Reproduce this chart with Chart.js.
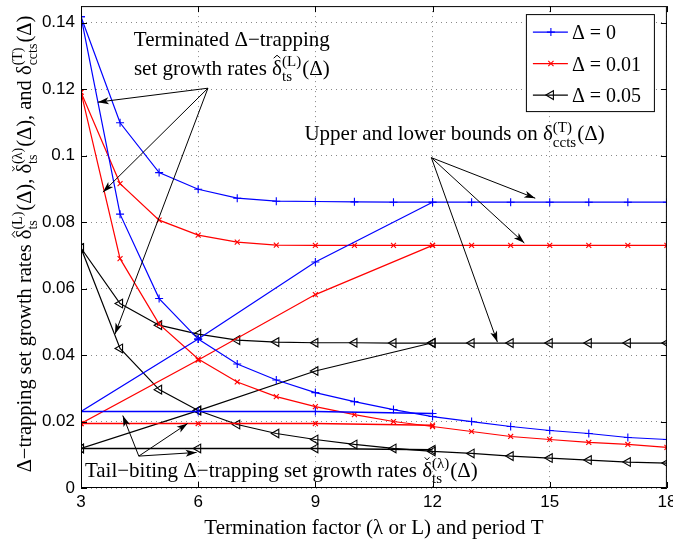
<!DOCTYPE html>
<html>
<head>
<meta charset="utf-8">
<script src="https://cdn.jsdelivr.net/npm/chart.js@4/dist/chart.umd.min.js"></script>
<style>
  html, body { margin: 0; padding: 0; background: #fff; }
  #wrap { width: 673px; height: 543px; }
</style>
</head>
<body>
<div id="wrap"><canvas id="c" width="673" height="543"></canvas></div>
<script>
// termination factor (lambda or L) and period T
const L = [3, 4, 5, 6, 7, 8, 9, 10, 11, 12, 13, 14, 15, 16, 17, 18];
const T = [3, 6, 9, 12];

// Delta = 0
const termD0  = [0.1418, 0.1099, 0.0949, 0.0899, 0.0872, 0.0863, 0.0862, 0.0861, 0.086, 0.086, 0.086, 0.086, 0.086, 0.086, 0.086, 0.086];
const tailD0  = [0.1418, 0.0824, 0.057, 0.0448, 0.0373, 0.0325, 0.0287, 0.026, 0.0236, 0.0215, 0.02, 0.0185, 0.0173, 0.0164, 0.0152, 0.0146];
const upperD0 = [0.023, 0.0448, 0.068, 0.086];
const lowerD0 = [0.023, 0.023, 0.023, 0.0224];

// Delta = 0.01
const termD1  = [0.1191, 0.0916, 0.0806, 0.0761, 0.074, 0.0731, 0.073, 0.073, 0.073, 0.073, 0.073, 0.073, 0.073, 0.073, 0.073, 0.073];
const tailD1  = [0.1191, 0.069, 0.0493, 0.0388, 0.0319, 0.0275, 0.0245, 0.0221, 0.02, 0.0185, 0.017, 0.0155, 0.0146, 0.0137, 0.0131, 0.0122];
const upperD1 = [0.0194, 0.0385, 0.0582, 0.073];
const lowerD1 = [0.0194, 0.0194, 0.0194, 0.0189];

// Delta = 0.05
const termD5  = [0.0722, 0.0555, 0.049, 0.0463, 0.0445, 0.0439, 0.0437, 0.0437, 0.0436, 0.0436, 0.0436, 0.0436, 0.0436, 0.0436, 0.0436, 0.0436];
const tailD5  = [0.0722, 0.042, 0.0296, 0.0233, 0.0191, 0.0164, 0.0146, 0.0131, 0.0119, 0.011, 0.0104, 0.0096, 0.009, 0.0084, 0.0078, 0.0075];
const upperD5 = [0.0119, 0.0233, 0.0352, 0.0437];
const lowerD5 = [0.0119, 0.0119, 0.0119, 0.0115];

const legendLabels = ['Δ = 0', 'Δ = 0.01', 'Δ = 0.05'];
const xTicks = [3, 6, 9, 12, 15, 18];
const yTicks = [0, 0.02, 0.04, 0.06, 0.08, 0.1, 0.12, 0.14];

const SERIF = '"Liberation Serif", "Times New Roman", serif';
const SANS = '"Liberation Sans", Arial, sans-serif';

const styles = [
  { color: '#0000ff', pointStyle: 'cross', rotation: 0, radius: 4 },
  { color: '#ff0000', pointStyle: 'crossRot', rotation: 0, radius: 3.5 },
  { color: '#000000', pointStyle: 'triangle', rotation: -90, radius: 5 }
];

function pts(xs, ys) { return xs.map((x, i) => ({ x, y: ys[i] })); }

function ds(xs, ys, st, w) {
  return {
    data: pts(xs, ys),
    borderColor: st.color,
    borderWidth: w || 1.2,
    pointStyle: st.pointStyle,
    pointRotation: st.rotation,
    pointRadius: st.radius,
    pointBorderColor: st.color,
    pointBackgroundColor: 'rgba(0,0,0,0)',
    pointBorderWidth: 1.1,
    tension: 0,
    fill: false
  };
}

const datasets = [
  ds(L, termD0, styles[0]), ds(L, tailD0, styles[0]), ds(T, upperD0, styles[0]), ds(T, lowerD0, styles[0], 1.6),
  ds(L, termD1, styles[1]), ds(L, tailD1, styles[1]), ds(T, upperD1, styles[1]), ds(T, lowerD1, styles[1], 1.6),
  ds(L, termD5, styles[2]), ds(L, tailD5, styles[2]), ds(T, upperD5, styles[2]), ds(T, lowerD5, styles[2], 1.6)
];

// annotation texts and arrows, in data units
const termText = { x: 6.86, y1: 0.1331, y2: 0.1244 };
const termArrows = { from: [6.25, 0.1203], to: [[3.43, 0.1161], [3.56, 0.089], [3.87, 0.0463]] };
const boundText = { x: 8.72, y: 0.1046 };
const boundArrows = { from: [11.97, 0.0994], to: [[14.63, 0.0872], [14.35, 0.0737], [13.66, 0.0439]] };
const tailText = { x: 3.1, y: 0.0034 };
const tailArrows = { from: [4.48, 0.0096], to: [[4.07, 0.0218], [5.73, 0.0194], [5.96, 0.0107]] };

// rich text: strings, or {b, acc, sup, sub}
function partWidth(ctx, p, size) {
  ctx.font = size + 'px ' + SERIF;
  if (typeof p === 'string') return ctx.measureText(p).width;
  const bw = ctx.measureText(p.b).width;
  ctx.font = Math.round(size * 0.7) + 'px ' + SERIF;
  const sw = Math.max(ctx.measureText(p.sup || '').width, ctx.measureText(p.sub || '').width);
  return bw + sw + 1;
}

function drawRich(ctx, parts, x, y, size, align) {
  let w = 0;
  parts.forEach(p => { w += partWidth(ctx, p, size); });
  let cx = align === 'center' ? x - w / 2 : x;
  ctx.fillStyle = '#000';
  ctx.textAlign = 'left';
  ctx.textBaseline = 'alphabetic';
  parts.forEach(p => {
    ctx.font = size + 'px ' + SERIF;
    if (typeof p === 'string') {
      ctx.fillText(p, cx, y);
      cx += ctx.measureText(p).width;
      return;
    }
    ctx.fillText(p.b, cx, y);
    const bw = ctx.measureText(p.b).width;
    if (p.acc) {
      const mx = cx + bw / 2, a = size * 0.16;
      ctx.beginPath();
      ctx.lineWidth = 1;
      ctx.strokeStyle = '#000';
      if (p.acc === 'hat') {
        ctx.moveTo(mx - a, y - size * 0.78); ctx.lineTo(mx, y - size * 0.92); ctx.lineTo(mx + a, y - size * 0.78);
      } else {
        ctx.moveTo(mx - a * 0.7, y - size * 0.92); ctx.lineTo(mx, y - size * 0.80); ctx.lineTo(mx + a * 0.7, y - size * 0.92);
      }
      ctx.stroke();
    }
    cx += bw;
    ctx.font = Math.round(size * 0.7) + 'px ' + SERIF;
    if (p.sup) ctx.fillText(p.sup, cx, y - size * 0.42);
    if (p.sub) ctx.fillText(p.sub, cx, y + size * 0.3);
    cx += Math.max(ctx.measureText(p.sup || '').width, ctx.measureText(p.sub || '').width) + 1;
  });
}

function arrow(ctx, x0, y0, x1, y1) {
  ctx.beginPath();
  ctx.moveTo(x0, y0); ctx.lineTo(x1, y1);
  ctx.strokeStyle = '#000'; ctx.lineWidth = 1; ctx.stroke();
  const ang = Math.atan2(y1 - y0, x1 - x0), len = 11, hw = 3.5;
  ctx.beginPath();
  ctx.moveTo(x1, y1);
  ctx.lineTo(x1 - len * Math.cos(ang) + hw * Math.sin(ang), y1 - len * Math.sin(ang) - hw * Math.cos(ang));
  ctx.lineTo(x1 - len * 0.75 * Math.cos(ang), y1 - len * 0.75 * Math.sin(ang));
  ctx.lineTo(x1 - len * Math.cos(ang) - hw * Math.sin(ang), y1 - len * Math.sin(ang) + hw * Math.cos(ang));
  ctx.closePath();
  ctx.fillStyle = '#000'; ctx.fill();
}

function marker(ctx, st, x, y) {
  const r = st.radius;
  ctx.strokeStyle = st.color; ctx.lineWidth = 1.1;
  ctx.beginPath();
  if (st.pointStyle === 'cross') {
    ctx.moveTo(x - r, y); ctx.lineTo(x + r, y); ctx.moveTo(x, y - r); ctx.lineTo(x, y + r);
  } else if (st.pointStyle === 'crossRot') {
    const d = r * 0.75;
    ctx.moveTo(x - d, y - d); ctx.lineTo(x + d, y + d); ctx.moveTo(x - d, y + d); ctx.lineTo(x + d, y - d);
  } else {
    ctx.moveTo(x - r, y); ctx.lineTo(x + r * 0.5, y - r * 0.87); ctx.lineTo(x + r * 0.5, y + r * 0.87); ctx.closePath();
  }
  ctx.stroke();
}

const decorations = {
  id: 'decorations',
  afterDatasetsDraw(chart) {
    const { ctx, chartArea: ca, scales } = chart;
    const px = v => scales.x.getPixelForValue(v), py = v => scales.y.getPixelForValue(v);
    ctx.save();

    // frame and inward ticks
    ctx.strokeStyle = '#000'; ctx.lineWidth = 1;
    ctx.strokeRect(ca.left + 0.5, ca.top + 0.5, ca.right - ca.left - 1, ca.bottom - ca.top - 1);
    ctx.beginPath();
    xTicks.forEach(v => {
      const x = Math.round(px(v)) + 0.5;
      ctx.moveTo(x, ca.bottom); ctx.lineTo(x, ca.bottom - 6);
      ctx.moveTo(x, ca.top); ctx.lineTo(x, ca.top + 6);
    });
    yTicks.forEach(v => {
      const y = Math.round(py(v)) + 0.5;
      ctx.moveTo(ca.left, y); ctx.lineTo(ca.left + 6, y);
      ctx.moveTo(ca.right, y); ctx.lineTo(ca.right - 6, y);
    });
    ctx.stroke();

    // annotations
    drawRich(ctx, ['Terminated Δ−trapping'], px(termText.x), py(termText.y1), 21, 'center');
    drawRich(ctx, ['set growth rates ', { b: 'δ', acc: 'hat', sup: '(L)', sub: 'ts' }, '(Δ)'], px(termText.x), py(termText.y2), 21, 'center');
    termArrows.to.forEach(t => arrow(ctx, px(termArrows.from[0]), py(termArrows.from[1]), px(t[0]), py(t[1])));

    drawRich(ctx, ['Upper and lower bounds on ', { b: 'δ', sup: '(T)', sub: 'ccts' }, '(Δ)'], px(boundText.x), py(boundText.y), 21, 'left');
    boundArrows.to.forEach(t => arrow(ctx, px(boundArrows.from[0]), py(boundArrows.from[1]), px(t[0]), py(t[1])));

    drawRich(ctx, ['Tail−biting Δ−trapping set growth rates ', { b: 'δ', acc: 'check', sup: '(λ)', sub: 'ts' }, '(Δ)'], px(tailText.x), py(tailText.y), 21, 'left');
    tailArrows.to.forEach(t => arrow(ctx, px(tailArrows.from[0]), py(tailArrows.from[1]), px(t[0]), py(t[1])));

    // legend
    const bx = ca.right - 141, by = ca.top + 8, bw = 128, bh = 97;
    ctx.fillStyle = '#fff';
    ctx.fillRect(bx, by, bw, bh);
    ctx.strokeStyle = '#000'; ctx.lineWidth = 1;
    ctx.strokeRect(bx + 0.5, by + 0.5, bw, bh);
    legendLabels.forEach((lab, i) => {
      const y = by + 18 + i * 31.5;
      ctx.beginPath();
      ctx.moveTo(bx + 7, y); ctx.lineTo(bx + 42, y);
      ctx.strokeStyle = styles[i].color; ctx.lineWidth = 1.2; ctx.stroke();
      marker(ctx, styles[i], bx + 25, y);
      drawRich(ctx, [lab], bx + 46, y + 7, 20, 'left');
    });

    // axis titles
    drawRich(ctx, ['Termination factor (λ or L) and period T'], (ca.left + ca.right) / 2, 534, 21, 'center');
    ctx.translate(31, (ca.top + ca.bottom) / 2 - 3);
    ctx.rotate(-Math.PI / 2);
    drawRich(ctx, ['Δ−trapping set growth rates ',
      { b: 'δ', acc: 'hat', sup: '(L)', sub: 'ts' }, '(Δ), ',
      { b: 'δ', acc: 'check', sup: '(λ)', sub: 'ts' }, '(Δ), and ',
      { b: 'δ', sup: '(T)', sub: 'ccts' }, '(Δ)'], 0, 0, 20.5, 'center');
    ctx.restore();
  }
};

new Chart(document.getElementById('c'), {
  type: 'line',
  data: { datasets },
  options: {
    responsive: false,
    animation: false,
    layout: { padding: { left: 0, right: 5, top: 3, bottom: 0 } },
    plugins: { legend: { display: false }, tooltip: { enabled: false } },
    scales: {
      x: {
        type: 'linear', min: 3, max: 18,
        ticks: { stepSize: 3, color: '#000', font: { family: SANS, size: 17 }, padding: 4, maxRotation: 0 },
        grid: { color: '#888', drawTicks: false, lineWidth: 1 },
        border: { display: false, dash: [1, 4] },
        afterFit: s => { s.height = 55; s.paddingLeft = 0; s.paddingRight = 0; }
      },
      y: {
        type: 'linear', min: 0, max: 0.145,
        afterBuildTicks: s => { s.ticks = yTicks.map(v => ({ value: v })); },
        ticks: {
          color: '#000', font: { family: SANS, size: 17 }, padding: 6,
          callback: v => v === 0 ? '0' : String(+v.toFixed(2))
        },
        grid: { color: '#888', drawTicks: false, lineWidth: 1 },
        border: { display: false, dash: [1, 4] },
        afterFit: s => { s.width = 81; s.paddingTop = 0; s.paddingBottom = 0; }
      }
    }
  },
  plugins: [decorations]
});
</script>
</body>
</html>
